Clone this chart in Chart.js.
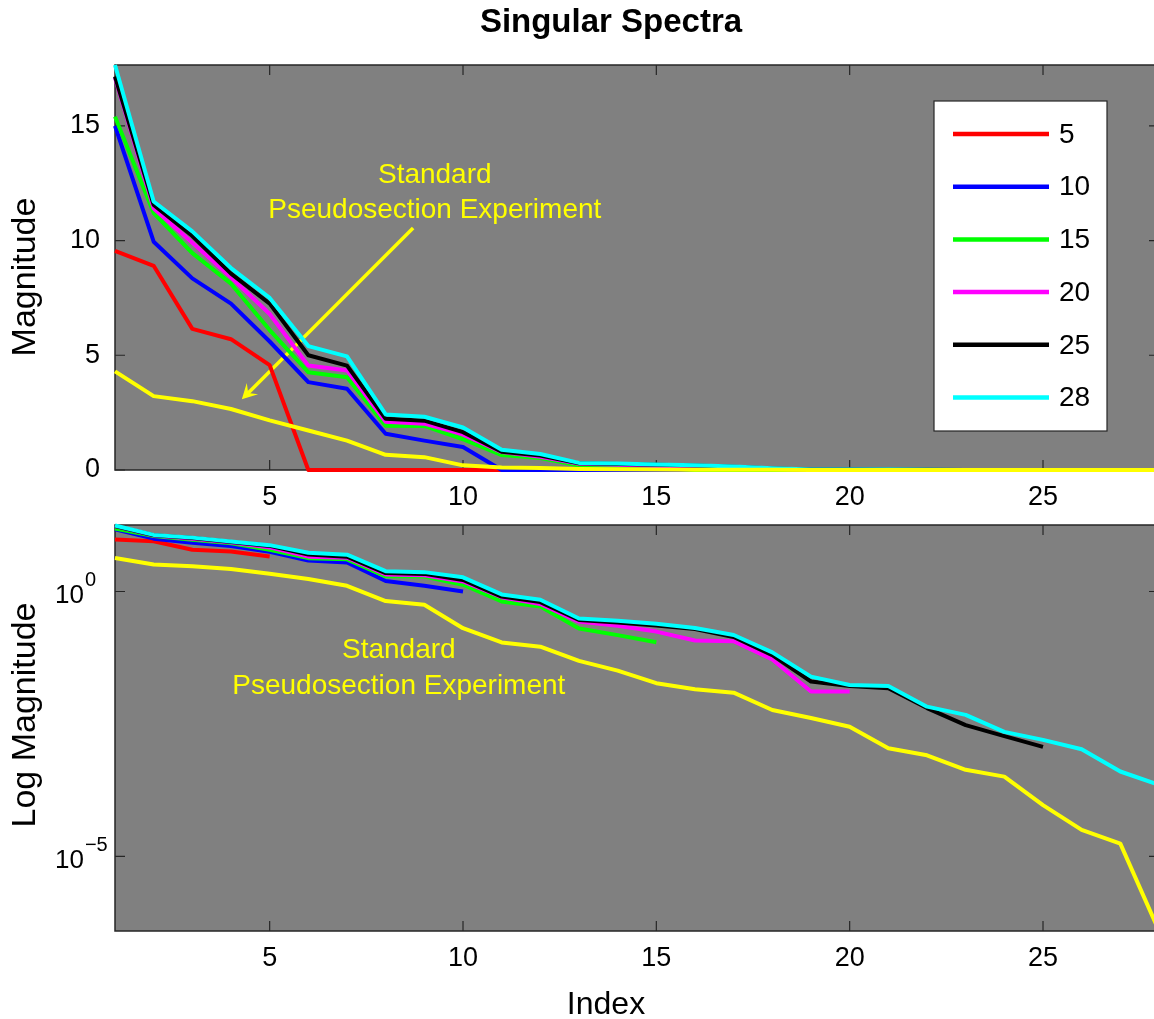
<!DOCTYPE html>
<html>
<head>
<meta charset="utf-8">
<title>Singular Spectra</title>
<script src="https://cdn.jsdelivr.net/npm/chart.js@4.4.1/dist/chart.umd.min.js"></script>
<style>
    html, body { margin: 0; padding: 0; background: #fff; overflow: hidden; }
    #wrap { position: relative; width: 1154px; height: 1019px; overflow: hidden; }
    canvas { position: absolute; left: 0; }
    #topChart { top: 0; }
    #bottomChart { top: 515px; }
</style>
</head>
<body>
<div id="wrap">
    <canvas id="topChart" width="1160" height="515"></canvas>
    <canvas id="bottomChart" width="1160" height="504"></canvas>
</div>
<script>
// Index of each singular value
const indices = [1, 2, 3, 4, 5, 6, 7, 8, 9, 10, 11, 12, 13, 14, 15, 16, 17, 18, 19, 20, 21, 22, 23, 24, 25, 26, 27, 28];

// Legend labels (number of electrodes / rank)
const seriesLabels = ['5', '10', '15', '20', '25', '28'];
const standardLabel = 'Standard Pseudosection Experiment';

// Singular values (zeros beyond the rank of each matrix)
const sv5  = [9.55, 8.9, 6.15, 5.7, 4.57, 0, 0, 0, 0, 0, 0, 0, 0, 0, 0, 0, 0, 0, 0, 0, 0, 0, 0, 0, 0, 0, 0, 0];
const sv10 = [15.0, 9.95, 8.35, 7.25, 5.6, 3.83, 3.54, 1.58, 1.28, 1.0, 0, 0, 0, 0, 0, 0, 0, 0, 0, 0, 0, 0, 0, 0, 0, 0, 0, 0];
const sv15 = [15.4, 11.2, 9.45, 8.12, 6.1, 4.26, 4.04, 1.93, 1.92, 1.34, 0.65, 0.52, 0.2, 0.15, 0.11, 0, 0, 0, 0, 0, 0, 0, 0, 0, 0, 0, 0, 0];
const sv20 = [17.1, 11.4, 9.9, 8.4, 6.8, 4.55, 4.34, 2.1, 2.02, 1.55, 0.78, 0.58, 0.27, 0.226, 0.175, 0.119, 0.115, 0.052, 0.0129, 0.0129, 0, 0, 0, 0, 0, 0, 0, 0];
const sv25 = [17.15, 11.55, 10.2, 8.56, 7.25, 5.0, 4.55, 2.23, 2.15, 1.65, 0.8, 0.63, 0.29, 0.26, 0.229, 0.195, 0.138, 0.063, 0.02, 0.0165, 0.0149, 0.0063, 0.003, 0.00186, 0.00117, 0, 0, 0];
const sv28 = [17.65, 11.7, 10.4, 8.8, 7.5, 5.4, 4.95, 2.42, 2.32, 1.85, 0.88, 0.70, 0.31, 0.28, 0.245, 0.204, 0.151, 0.071, 0.0247, 0.0172, 0.0165, 0.0067, 0.00468, 0.00224, 0.00158, 0.00105, 0.0004, 0.000224];
const svStandard = [4.3, 3.22, 3.0, 2.66, 2.16, 1.72, 1.28, 0.66, 0.56, 0.203, 0.109, 0.091, 0.049, 0.032, 0.0186, 0.0143, 0.0123, 0.0058, 0.0041, 0.0028, 0.0011, 0.00081, 0.00043, 0.00032, 0.000093, 0.0000316, 0.0000174, 0.00000039];

// Ticks and axis limits
const xTickValues = [5, 10, 15, 20, 25];
const linTickValues = [0, 5, 10, 15];
const logTickValues = [1e-5, 1];
const logTickExponents = ['\u22125', '0'];
const xMin = 1, xMax = 28;
const linYMax = 17.65;
const logYMin = 3.9e-7, logYMax = 18;

const fontFamily = "'Liberation Sans', Arial, Helvetica, sans-serif";

// Plugin that draws the MATLAB style axes: grey background, box, inward ticks, texts, legend
const matlabAxes = {
    id: 'matlabAxes',
    beforeDatasetsDraw(chart, args, opts) {
        const { ctx, chartArea: a, scales } = chart;
        ctx.save();
        ctx.fillStyle = '#808080';
        ctx.fillRect(a.left, a.top, a.right - a.left, a.bottom - a.top);

        ctx.strokeStyle = '#262626';
        ctx.lineWidth = 1.5;
        ctx.strokeRect(a.left, a.top, a.right - a.left, a.bottom - a.top);

        // inward ticks on all four sides
        ctx.lineWidth = 1.2;
        ctx.beginPath();
        scales.x.ticks.forEach(t => {
            const px = scales.x.getPixelForValue(t.value);
            ctx.moveTo(px, a.bottom); ctx.lineTo(px, a.bottom - 10);
            ctx.moveTo(px, a.top); ctx.lineTo(px, a.top + 10);
        });
        scales.y.ticks.forEach(t => {
            const py = scales.y.getPixelForValue(t.value);
            ctx.moveTo(a.left, py); ctx.lineTo(a.left + 10, py);
            ctx.moveTo(a.right, py); ctx.lineTo(a.right - 10, py);
        });
        ctx.stroke();

        // annotation arrow (under the lines)
        if (opts.arrow) {
            const p0 = { x: scales.x.getPixelForValue(opts.arrow.from[0]), y: scales.y.getPixelForValue(opts.arrow.from[1]) };
            const p1 = { x: scales.x.getPixelForValue(opts.arrow.to[0]), y: scales.y.getPixelForValue(opts.arrow.to[1]) };
            const dx = p1.x - p0.x, dy = p1.y - p0.y;
            const len = Math.hypot(dx, dy);
            const ux = dx / len, uy = dy / len, nx = -uy, ny = ux;
            const L = 15, W = 8;
            ctx.strokeStyle = '#ffff00';
            ctx.fillStyle = '#ffff00';
            ctx.lineWidth = 3.5;
            ctx.beginPath();
            ctx.moveTo(p0.x, p0.y);
            ctx.lineTo(p1.x - ux * L * 0.6, p1.y - uy * L * 0.6);
            ctx.stroke();
            ctx.beginPath();
            ctx.moveTo(p1.x, p1.y);
            ctx.lineTo(p1.x - ux * L + nx * W, p1.y - uy * L + ny * W);
            ctx.lineTo(p1.x - ux * L * 0.6, p1.y - uy * L * 0.6);
            ctx.lineTo(p1.x - ux * L - nx * W, p1.y - uy * L - ny * W);
            ctx.closePath();
            ctx.fill();
        }
        ctx.restore();
    },
    afterDatasetsDraw(chart, args, opts) {
        const { ctx, scales } = chart;
        ctx.save();

        // yellow annotation texts placed in data coordinates
        (opts.notes || []).forEach(n => {
            ctx.font = '28px ' + fontFamily;
            ctx.fillStyle = '#ffff00';
            ctx.textAlign = 'center';
            ctx.textBaseline = 'alphabetic';
            ctx.fillText(n.text, scales.x.getPixelForValue(n.x), scales.y.getPixelForValue(n.y));
        });

        // legend box
        if (opts.legend) {
            const lg = opts.legend;
            ctx.fillStyle = '#ffffff';
            ctx.fillRect(lg.left, lg.top, lg.width, lg.height);
            ctx.strokeStyle = '#262626';
            ctx.lineWidth = 1.2;
            ctx.strokeRect(lg.left, lg.top, lg.width, lg.height);
            const items = chart.data.datasets.filter(d => d.inLegend);
            items.forEach((d, i) => {
                const y = lg.firstRow + i * lg.rowStep;
                ctx.strokeStyle = d.borderColor;
                ctx.lineWidth = 4.5;
                ctx.beginPath();
                ctx.moveTo(lg.lineFrom, y);
                ctx.lineTo(lg.lineTo, y);
                ctx.stroke();
                ctx.fillStyle = '#000';
                ctx.font = '28px ' + fontFamily;
                ctx.textAlign = 'left';
                ctx.textBaseline = 'middle';
                ctx.fillText(d.label, lg.textX, y + 1);
            });
        }

        // power-of-ten tick labels for the log axis
        if (opts.logLabels) {
            logTickValues.forEach((v, i) => {
                const py = scales.y.getPixelForValue(v);
                ctx.fillStyle = '#000';
                ctx.textAlign = 'left';
                ctx.textBaseline = 'alphabetic';
                ctx.font = '26px ' + fontFamily;
                ctx.fillText('10', 55, py + 11.5);
                const w = ctx.measureText('10').width;
                ctx.font = '20px ' + fontFamily;
                ctx.fillText(logTickExponents[i], 55 + w + 1, py - 5.5);
            });
        }

        // titles and axis labels
        (opts.texts || []).forEach(t => {
            ctx.save();
            ctx.font = t.font;
            ctx.fillStyle = '#000';
            ctx.textAlign = 'center';
            ctx.textBaseline = 'alphabetic';
            ctx.translate(t.x, t.y);
            if (t.rotate) ctx.rotate(-Math.PI / 2);
            ctx.fillText(t.text, 0, 0);
            ctx.restore();
        });
        ctx.restore();
    }
};

function buildDatasets(isLog) {
    const series = [
        { label: seriesLabels[0], values: sv5,  color: '#ff0000', order: 6 },
        { label: seriesLabels[1], values: sv10, color: '#0000ff', order: 5 },
        { label: seriesLabels[2], values: sv15, color: '#00ff00', order: 4 },
        { label: seriesLabels[3], values: sv20, color: '#ff00ff', order: 3 },
        { label: seriesLabels[4], values: sv25, color: '#000000', order: 2 },
        { label: seriesLabels[5], values: sv28, color: '#00ffff', order: 1 },
        { label: standardLabel, values: svStandard, color: '#ffff00', order: 0, hidden: true }
    ];
    return series.map(s => ({
        label: s.label,
        inLegend: !s.hidden,
        // zeros cannot be shown on the log axis
        data: indices.map((x, i) => ({ x: x, y: isLog ? (s.values[i] > 0 ? s.values[i] : null) : s.values[i] })),
        borderColor: s.color,
        backgroundColor: s.color,
        borderWidth: 4,
        borderJoinStyle: 'round',
        pointRadius: 0,
        tension: 0,
        spanGaps: false,
        clip: 3,
        order: s.order
    }));
}

function xScaleOptions(height) {
    return {
        type: 'linear',
        min: xMin,
        max: xMax,
        afterBuildTicks: scale => { scale.ticks = xTickValues.map(v => ({ value: v })); },
        afterFit: scale => { scale.height = height; },
        grid: { display: false, drawTicks: false },
        border: { display: false },
        ticks: {
            color: '#000',
            font: { family: fontFamily, size: 27 },
            padding: 11,
            maxRotation: 0,
            autoSkip: false,
            callback: v => String(v)
        }
    };
}

function commonOptions(scales, padTop, pluginOpts) {
    return {
        responsive: false,
        animation: false,
        devicePixelRatio: 1,
        events: [],
        layout: { padding: { top: padTop, left: 0, right: 1, bottom: 0 } },
        scales: scales,
        plugins: {
            legend: { display: false },
            title: { display: false },
            tooltip: { enabled: false },
            matlabAxes: pluginOpts
        }
    };
}

// Top panel: linear magnitude
new Chart(document.getElementById('topChart').getContext('2d'), {
    type: 'line',
    data: { datasets: buildDatasets(false) },
    plugins: [matlabAxes],
    options: commonOptions({
        x: xScaleOptions(45),
        y: {
            type: 'linear',
            min: 0,
            max: linYMax,
            afterBuildTicks: scale => { scale.ticks = linTickValues.map(v => ({ value: v })); },
            afterFit: scale => { scale.width = 115; },
            grid: { display: false, drawTicks: false },
            border: { display: false },
            ticks: {
                color: '#000',
                font: { family: fontFamily, size: 27 },
                padding: 15,
                callback: v => String(v)
            }
        }
    }, 65, {
        arrow: { from: [8.71, 10.55], to: [4.28, 3.08] },
        notes: [
            { text: 'Standard', x: 9.27, y: 12.51 },
            { text: 'Pseudosection Experiment', x: 9.27, y: 10.98 }
        ],
        legend: { left: 934, top: 101, width: 173, height: 330, firstRow: 134, rowStep: 52.7, lineFrom: 953, lineTo: 1049, textX: 1059 },
        texts: [
            { text: 'Singular Spectra', x: 611, y: 32, font: 'bold 33px ' + fontFamily },
            { text: 'Magnitude', x: 35, y: 277, rotate: true, font: '34px ' + fontFamily }
        ]
    })
});

// Bottom panel: log magnitude
new Chart(document.getElementById('bottomChart').getContext('2d'), {
    type: 'line',
    data: { datasets: buildDatasets(true) },
    plugins: [matlabAxes],
    options: commonOptions({
        x: xScaleOptions(88),
        y: {
            type: 'logarithmic',
            min: logYMin,
            max: logYMax,
            afterBuildTicks: scale => { scale.ticks = logTickValues.map(v => ({ value: v })); },
            afterFit: scale => { scale.width = 115; },
            grid: { display: false, drawTicks: false },
            border: { display: false },
            ticks: { display: false }
        }
    }, 10, {
        notes: [
            { text: 'Standard', x: 8.34, y: 0.0556 },
            { text: 'Pseudosection Experiment', x: 8.34, y: 0.0116 }
        ],
        logLabels: true,
        texts: [
            { text: 'Log Magnitude', x: 35, y: 200, rotate: true, font: '34px ' + fontFamily },
            { text: 'Index', x: 606, y: 499, font: '32px ' + fontFamily }
        ]
    })
});
</script>
</body>
</html>
